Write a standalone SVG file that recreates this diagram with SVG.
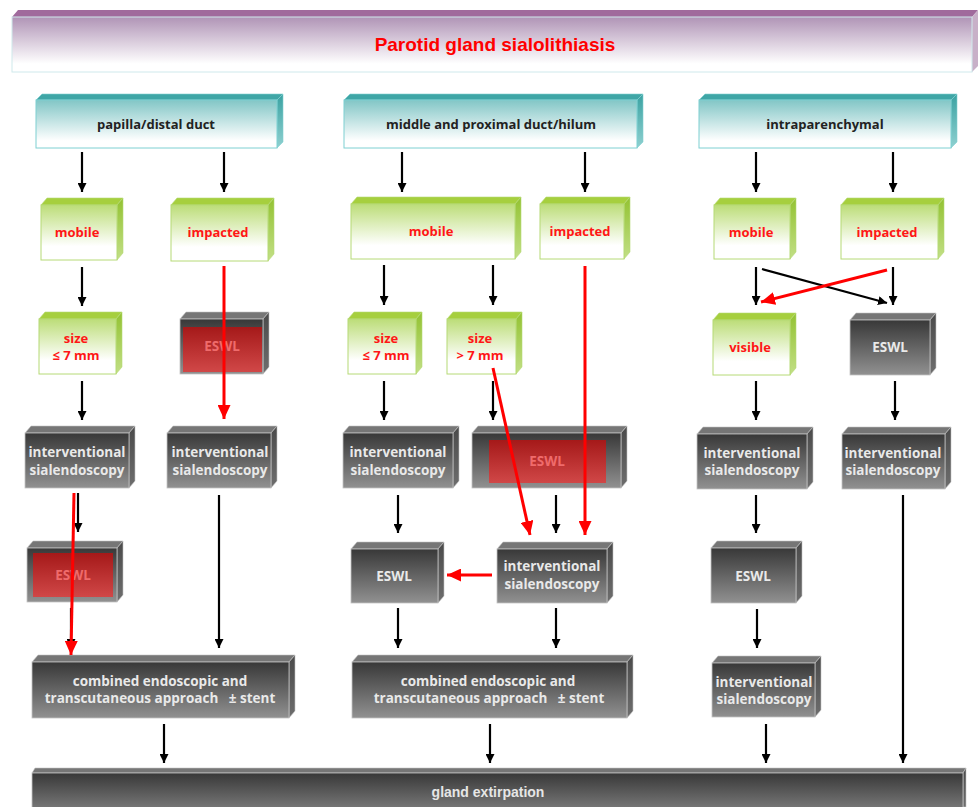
<svg xmlns="http://www.w3.org/2000/svg" width="979" height="807" viewBox="0 0 979 807">
<defs>
<linearGradient id="gDark" x1="0" y1="0" x2="0" y2="1"><stop offset="0" stop-color="#383838"/><stop offset="1" stop-color="#919191"/></linearGradient>
<linearGradient id="gDarkR" x1="0" y1="0" x2="0" y2="1"><stop offset="0" stop-color="#4a4a4a"/><stop offset="1" stop-color="#6e6e6e"/></linearGradient>
<linearGradient id="gGreen" x1="0" y1="0" x2="0" y2="1"><stop offset="0" stop-color="#bcdd78"/><stop offset="0.75" stop-color="#ffffff"/><stop offset="1" stop-color="#ffffff"/></linearGradient>
<linearGradient id="gGreenR" x1="0" y1="0" x2="0" y2="1"><stop offset="0" stop-color="#93c232"/><stop offset="1" stop-color="#c2df86"/></linearGradient>
<linearGradient id="gTeal" x1="0" y1="0" x2="0" y2="1"><stop offset="0" stop-color="#82c6c6"/><stop offset="0.85" stop-color="#ffffff"/><stop offset="1" stop-color="#ffffff"/></linearGradient>
<linearGradient id="gTealR" x1="0" y1="0" x2="0" y2="1"><stop offset="0" stop-color="#3aa2a2"/><stop offset="1" stop-color="#8fd0d0"/></linearGradient>
<linearGradient id="gTitle" x1="0" y1="0" x2="0" y2="1"><stop offset="0" stop-color="#b094b6"/><stop offset="0.85" stop-color="#ffffff"/><stop offset="1" stop-color="#ffffff"/></linearGradient>
<linearGradient id="gRed" x1="0" y1="0" x2="0" y2="1"><stop offset="0" stop-color="#aa1717"/><stop offset="1" stop-color="#d44444"/></linearGradient>
<marker id="ab" viewBox="0 0 10 10" refX="10" refY="5" markerWidth="9" markerHeight="9" markerUnits="userSpaceOnUse" orient="auto"><path d="M0,0 L10,5 L0,10 z" fill="#000"/></marker>
<marker id="ar" viewBox="0 0 10 10" refX="10" refY="5" markerWidth="14" markerHeight="13" markerUnits="userSpaceOnUse" orient="auto" preserveAspectRatio="none"><path d="M0,0 L10,5 L0,10 z" fill="#ff0000"/></marker>
<style>
.df{fill:url(#gDark);stroke:#c4c4c4;stroke-width:0.8}
.dt{fill:#767676;stroke:#c4c4c4;stroke-width:0.6}
.dr{fill:url(#gDarkR);stroke:#c4c4c4;stroke-width:0.6}
.gf{fill:url(#gGreen);stroke:#b6da76;stroke-width:1}
.gt{fill:#a6cf3e;stroke:#b6da76;stroke-width:0.6}
.gr{fill:url(#gGreenR);stroke:#b6da76;stroke-width:0.6}
.tf{fill:url(#gTeal);stroke:#7fd0d2;stroke-width:1}
.tt{fill:#3fa6a6;stroke:#7fd0d2;stroke-width:0.6}
.tr{fill:url(#gTealR);stroke:#7fd0d2;stroke-width:0.6}
.red{fill:url(#gRed);opacity:0.95}
text{font-family:"Open Sans","Liberation Sans",sans-serif;font-weight:700;text-anchor:middle}
.w{fill:#e9e9e9;font-size:13.5px}
.r{fill:#ff1616;font-size:13px}
.h{fill:#222;font-size:13px}
.ew{fill:#ef6b6b;font-size:13.5px}
.cb{stroke:#000;stroke-width:2.2;fill:none;marker-end:url(#ab)}
.cr{stroke:#ff0000;stroke-width:3;fill:none;marker-end:url(#ar)}
</style>
</defs>
<rect width="979" height="807" fill="#ffffff"/>

<g id="title">
<polygon points="12,17 18,10 978,10 972,17" fill="#a06a9c"/>
<polygon points="972,17 978,10 978,66 972,72" fill="#c8b0c8"/>
<rect x="12" y="17" width="960" height="55" fill="url(#gTitle)" stroke="#cfe9ec" stroke-width="1"/>
<text x="495" y="51" style="font-family:'Liberation Sans',Arial,sans-serif;font-size:19px;fill:#ff0000">Parotid gland sialolithiasis</text>
</g>

<!-- headers -->
<g id="h1"><polygon class="tt" points="36,100 42,94 283,94 277,100"/><polygon class="tr" points="277,100 283,94 283,142 277,148"/><rect class="tf" x="36" y="100" width="241" height="48"/><text class="h" x="156" y="129">papilla/distal duct</text></g>
<g id="h2"><polygon class="tt" points="344,100 350,94 643,94 637,100"/><polygon class="tr" points="637,100 643,94 643,142 637,148"/><rect class="tf" x="344" y="100" width="293" height="48"/><text class="h" x="491" y="129">middle and proximal duct/hilum</text></g>
<g id="h3"><polygon class="tt" points="699,100 705,94 957,94 951,100"/><polygon class="tr" points="951,100 957,94 957,142 951,148"/><rect class="tf" x="699" y="100" width="252" height="48"/><text class="h" x="825" y="129">intraparenchymal</text></g>

<!-- green row 1 -->
<g id="g1"><polygon class="gt" points="41,205 47,198 123,198 117,205"/><polygon class="gr" points="117,205 123,198 123,253 117,260"/><rect class="gf" x="41" y="205" width="76" height="55"/><text class="r" x="77" y="237">mobile</text></g>
<g id="g2"><polygon class="gt" points="171,205 177,198 274,198 268,205"/><polygon class="gr" points="268,205 274,198 274,254 268,261"/><rect class="gf" x="171" y="205" width="97" height="56"/><text class="r" x="218" y="237">impacted</text></g>
<g id="g3"><polygon class="gt" points="351,204 357,197 521,197 515,204"/><polygon class="gr" points="515,204 521,197 521,252 515,259"/><rect class="gf" x="351" y="204" width="164" height="55"/><text class="r" x="431" y="236">mobile</text></g>
<g id="g4"><polygon class="gt" points="540,204 546,197 630,197 624,204"/><polygon class="gr" points="624,204 630,197 630,252 624,259"/><rect class="gf" x="540" y="204" width="84" height="55"/><text class="r" x="580" y="236">impacted</text></g>
<g id="g5"><polygon class="gt" points="714,205 720,198 796,198 790,205"/><polygon class="gr" points="790,205 796,198 796,252 790,259"/><rect class="gf" x="714" y="205" width="76" height="54"/><text class="r" x="751" y="237">mobile</text></g>
<g id="g6"><polygon class="gt" points="841,205 847,198 944,198 938,205"/><polygon class="gr" points="938,205 944,198 944,252 938,259"/><rect class="gf" x="841" y="205" width="97" height="54"/><text class="r" x="887" y="237">impacted</text></g>

<!-- row 2 -->
<g id="s1"><polygon class="gt" points="39,319 45,312 122,312 116,319"/><polygon class="gr" points="116,319 122,312 122,367 116,374"/><rect class="gf" x="39" y="319" width="77" height="55"/><text class="r" x="76" y="343">size</text><text class="r" x="76" y="360">≤ 7 mm</text></g>
<g id="e1"><polygon class="dt" points="180,319 186,312 269,312 263,319"/><polygon class="dr" points="263,319 269,312 269,367 263,374"/><rect class="df" x="180" y="319" width="83" height="55"/><rect class="red" x="183" y="327" width="79" height="45"/><text class="ew" x="222" y="351">ESWL</text></g>
<g id="s2"><polygon class="gt" points="348,319 354,312 422,312 416,319"/><polygon class="gr" points="416,319 422,312 422,367 416,374"/><rect class="gf" x="348" y="319" width="68" height="55"/><text class="r" x="386" y="343">size</text><text class="r" x="386" y="360">≤ 7 mm</text></g>
<g id="s3"><polygon class="gt" points="447,319 453,312 522,312 516,319"/><polygon class="gr" points="516,319 522,312 522,367 516,374"/><rect class="gf" x="447" y="319" width="69" height="55"/><text class="r" x="480" y="343">size</text><text class="r" x="480" y="360">&gt; 7 mm</text></g>
<g id="v1"><polygon class="gt" points="713,320 719,313 796,313 790,320"/><polygon class="gr" points="790,320 796,313 796,368 790,375"/><rect class="gf" x="713" y="320" width="77" height="55"/><text class="r" x="750" y="352">visible</text></g>
<g id="e2"><polygon class="dt" points="850,320 856,313 936,313 930,320"/><polygon class="dr" points="930,320 936,313 936,368 930,375"/><rect class="df" x="850" y="320" width="80" height="55"/><text class="w" x="890" y="352">ESWL</text></g>

<!-- row 3 -->
<g id="i1"><polygon class="dt" points="25,433 31,426 135,426 129,433"/><polygon class="dr" points="129,433 135,426 135,481 129,488"/><rect class="df" x="25" y="433" width="104" height="55"/><text class="w" x="77" y="457">interventional</text><text class="w" x="77" y="475">sialendoscopy</text></g>
<g id="i2"><polygon class="dt" points="167,433 173,426 277,426 271,433"/><polygon class="dr" points="271,433 277,426 277,481 271,488"/><rect class="df" x="167" y="433" width="104" height="55"/><text class="w" x="220" y="457">interventional</text><text class="w" x="220" y="475">sialendoscopy</text></g>
<g id="i3"><polygon class="dt" points="343,433 349,426 459,426 453,433"/><polygon class="dr" points="453,433 459,426 459,481 453,488"/><rect class="df" x="343" y="433" width="110" height="55"/><text class="w" x="398" y="457">interventional</text><text class="w" x="398" y="475">sialendoscopy</text></g>
<g id="e3"><polygon class="dt" points="472,433 478,426 627,426 621,433"/><polygon class="dr" points="621,433 627,426 627,481 621,488"/><rect class="df" x="472" y="433" width="149" height="55"/><rect class="red" x="489" y="440" width="117" height="43"/><text class="ew" x="547" y="466">ESWL</text></g>
<g id="i4"><polygon class="dt" points="697,434 703,427 813,427 807,434"/><polygon class="dr" points="807,434 813,427 813,482 807,489"/><rect class="df" x="697" y="434" width="110" height="55"/><text class="w" x="752" y="458">interventional</text><text class="w" x="752" y="475">sialendoscopy</text></g>
<g id="i5"><polygon class="dt" points="842,434 848,427 951,427 945,434"/><polygon class="dr" points="945,434 951,427 951,482 945,489"/><rect class="df" x="842" y="434" width="103" height="55"/><text class="w" x="893" y="458">interventional</text><text class="w" x="893" y="475">sialendoscopy</text></g>

<!-- row 4 -->
<g id="e4"><polygon class="dt" points="27,548 33,541 123,541 117,548"/><polygon class="dr" points="117,548 123,541 123,595 117,602"/><rect class="df" x="27" y="548" width="90" height="54"/><rect class="red" x="33" y="553" width="80" height="44"/><text class="ew" x="73" y="580">ESWL</text></g>
<g id="e5"><polygon class="dt" points="351,549 357,542 444,542 438,549"/><polygon class="dr" points="438,549 444,542 444,596 438,603"/><rect class="df" x="351" y="549" width="87" height="54"/><text class="w" x="394" y="581">ESWL</text></g>
<g id="i6"><polygon class="dt" points="497,549 503,542 613,542 607,549"/><polygon class="dr" points="607,549 613,542 613,596 607,603"/><rect class="df" x="497" y="549" width="110" height="54"/><text class="w" x="552" y="571">interventional</text><text class="w" x="552" y="589">sialendoscopy</text></g>
<g id="e6"><polygon class="dt" points="711,548 717,541 802,541 796,548"/><polygon class="dr" points="796,548 802,541 802,596 796,603"/><rect class="df" x="711" y="548" width="85" height="55"/><text class="w" x="753" y="581">ESWL</text></g>

<!-- row 5 -->
<g id="c1"><polygon class="dt" points="32,662 38,655 295,655 289,662"/><polygon class="dr" points="289,662 295,655 295,711 289,718"/><rect class="df" x="32" y="662" width="257" height="56"/><text class="w" x="160" y="686">combined endoscopic and</text><text class="w" x="160" y="703" xml:space="preserve">transcutaneous approach   ± stent</text></g>
<g id="c2"><polygon class="dt" points="352,662 358,655 633,655 627,662"/><polygon class="dr" points="627,662 633,655 633,711 627,718"/><rect class="df" x="352" y="662" width="275" height="56"/><text class="w" x="488" y="686">combined endoscopic and</text><text class="w" x="489" y="703" xml:space="preserve">transcutaneous approach   ± stent</text></g>
<g id="i7"><polygon class="dt" points="712,663 718,656 821,656 815,663"/><polygon class="dr" points="815,663 821,656 821,710 815,717"/><rect class="df" x="712" y="663" width="103" height="54"/><text class="w" x="764" y="687">interventional</text><text class="w" x="764" y="704">sialendoscopy</text></g>

<!-- bottom -->
<g id="ge"><polygon class="dt" points="32,773 35,768 966,768 963,773"/><polygon class="dr" points="963,773 966,768 966,807 963,807"/><rect class="df" x="32" y="773" width="931" height="50"/><text x="488" y="797" style="fill:#e6e6e6;font-family:'Liberation Sans Narrow','Liberation Sans',Arial,sans-serif;font-size:14px;font-weight:700">gland extirpation</text></g>

<g id="connectors">
<line class="cb" x1="82" y1="152" x2="82" y2="192"/>
<line class="cb" x1="224" y1="152" x2="224" y2="192"/>
<line class="cb" x1="402" y1="152" x2="402" y2="192"/>
<line class="cb" x1="585" y1="152" x2="585" y2="192"/>
<line class="cb" x1="756" y1="152" x2="756" y2="192"/>
<line class="cb" x1="893" y1="152" x2="893" y2="192"/>
<line class="cb" x1="82" y1="267" x2="82" y2="306"/>
<line class="cb" x1="82" y1="381" x2="82" y2="420"/>
<line class="cb" x1="384" y1="265" x2="384" y2="305"/>
<line class="cb" x1="493" y1="265" x2="493" y2="305"/>
<line class="cb" x1="384" y1="381" x2="384" y2="420"/>
<line class="cb" x1="493" y1="381" x2="493" y2="420"/>
<line class="cb" x1="78" y1="493" x2="78" y2="532"/>
<line class="cb" x1="71" y1="608" x2="71" y2="648"/>
<line class="cb" x1="219" y1="495" x2="219" y2="648"/>
<line class="cb" x1="398" y1="495" x2="398" y2="533"/>
<line class="cb" x1="556" y1="495" x2="556" y2="533"/>
<line class="cb" x1="398" y1="608" x2="398" y2="648"/>
<line class="cb" x1="556" y1="608" x2="556" y2="648"/>
<line class="cb" x1="756" y1="267" x2="756" y2="305"/>
<line class="cb" x1="893" y1="267" x2="893" y2="305"/>
<line class="cb" x1="762" y1="269" x2="887" y2="303"/>
<line class="cb" x1="756" y1="381" x2="756" y2="420"/>
<line class="cb" x1="895" y1="381" x2="895" y2="420"/>
<line class="cb" x1="756" y1="495" x2="756" y2="533"/>
<line class="cb" x1="757" y1="609" x2="757" y2="648"/>
<line class="cb" x1="903" y1="495" x2="903" y2="763"/>
<line class="cb" x1="164" y1="724" x2="164" y2="763"/>
<line class="cb" x1="490" y1="724" x2="490" y2="763"/>
<line class="cb" x1="766" y1="724" x2="766" y2="763"/>
<line class="cr" x1="224" y1="266" x2="224" y2="419"/>
<line class="cr" x1="74" y1="493" x2="71" y2="655"/>
<line class="cr" x1="493" y1="368" x2="530" y2="535"/>
<line class="cr" x1="585" y1="266" x2="585" y2="535"/>
<line class="cr" x1="492" y1="575" x2="447" y2="575"/>
<line class="cr" x1="887" y1="270" x2="761" y2="302"/>
</g>
</svg>
